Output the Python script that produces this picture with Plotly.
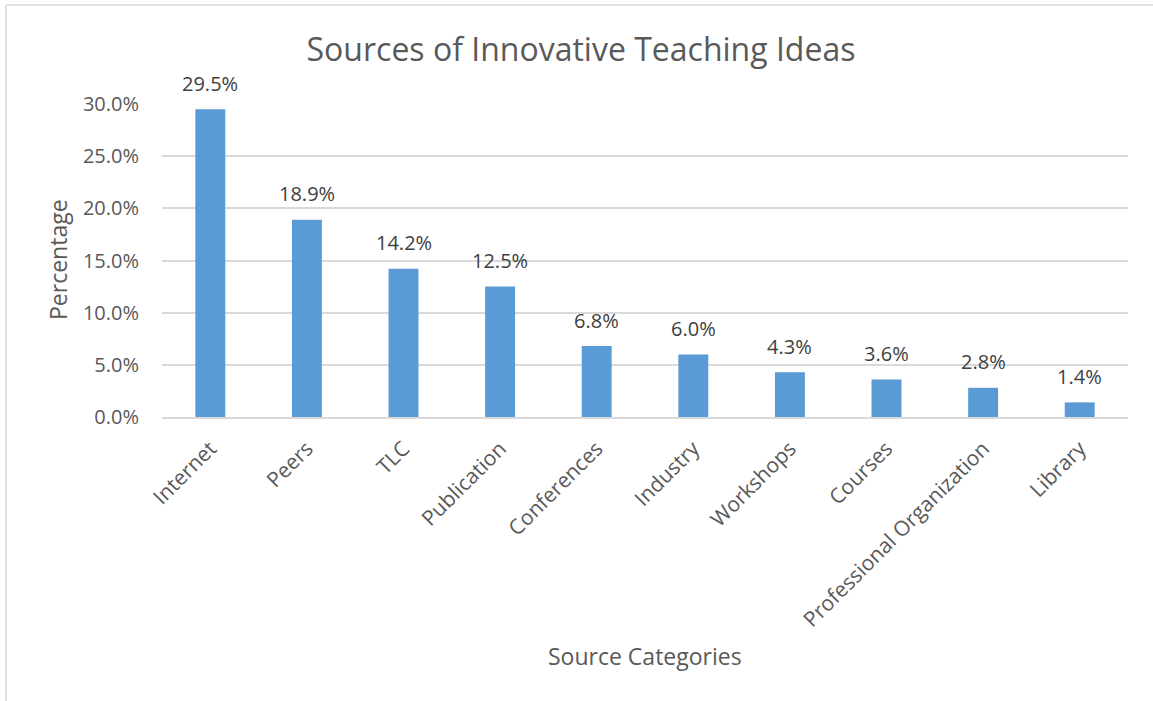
import plotly.graph_objects as go

categories = ["Internet", "Peers", "TLC", "Publication", "Conferences",
              "Industry", "Workshops", "Courses", "Professional Organization", "Library"]
percentages = [0.295, 0.189, 0.142, 0.125, 0.068, 0.060, 0.043, 0.036, 0.028, 0.014]
y_ticks = [0.0, 0.05, 0.10, 0.15, 0.20, 0.25, 0.30]

W, H = 1153, 701
M_L, M_R, M_T, M_B = 162, 25, 104, 284

TEXT = "#595959"
FONT = "Open Sans"

fig = go.Figure()
fig.add_trace(go.Bar(
    x=categories,
    y=percentages,
    width=0.31,
    marker=dict(color="#5B9BD5", line=dict(width=0)),
    hoverinfo="x+y",
))

# value labels above each bar
for c, v in zip(categories, percentages):
    fig.add_annotation(
        x=c, y=v, xref="x", yref="y",
        text=f"{v * 100:.1f}%",
        showarrow=False, yanchor="middle", yshift=26,
        font=dict(family=FONT, size=20, color="#404040"),
    )

# axis titles
fig.add_annotation(
    x=58, y=H - 260, xref="paper", yref="paper",
    text="Percentage", textangle=-90, showarrow=False,
    xanchor="center", yanchor="middle",
    font=dict(family=FONT, size=23, color=TEXT),
)
fig.add_annotation(
    x=(M_L + W - M_R) / 2, y=H - 656, xref="paper", yref="paper",
    text="Source Categories", showarrow=False,
    xanchor="center", yanchor="middle",
    font=dict(family=FONT, size=23, color=TEXT),
)

# chart frame (top and left edges)
fig.add_shape(type="line", xref="paper", yref="paper",
              x0=6, x1=W + 10, y0=H - 5, y1=H - 5,
              line=dict(color="#D9D9D9", width=1.5))
fig.add_shape(type="line", xref="paper", yref="paper",
              x0=6, x1=6, y0=H - 5, y1=-10,
              line=dict(color="#D9D9D9", width=1.5))

fig.update_layout(
    width=W, height=H,
    margin=dict(l=M_L, r=M_R, t=M_T, b=M_B, autoexpand=False),
    paper_bgcolor="white", plot_bgcolor="white",
    showlegend=False,
    title=dict(
        text="Sources of Innovative Teaching Ideas",
        x=581 / W, xanchor="center", y=1 - 50 / H, yanchor="middle",
        font=dict(family=FONT, size=32, color=TEXT),
    ),
    font=dict(family=FONT, color=TEXT),
    bargap=0.69,
)

fig.update_xaxes(
    showline=True, linecolor="#D9D9D9", linewidth=2,
    tickangle=-45, ticks="", ticklabelstandoff=9,
    tickfont=dict(family=FONT, size=21, color=TEXT),
    showgrid=False,
)
fig.update_yaxes(
    range=[0, 0.30], tickvals=y_ticks, tickformat=".1%",
    showgrid=True, gridcolor="#D9D9D9", gridwidth=1.5,
    zeroline=False, showline=False, ticks="",
    ticklabelstandoff=22,
    tickfont=dict(family=FONT, size=20, color=TEXT),
)

# convert pixel positions of paper-referenced annotations/shapes into fractions
for a in fig.layout.annotations:
    if a.xref == "paper":
        a.x = (a.x - M_L) / (W - M_L - M_R)
        a.y = (a.y - M_B) / (H - M_T - M_B)
for s in fig.layout.shapes:
    s.x0 = (s.x0 - M_L) / (W - M_L - M_R)
    s.x1 = (s.x1 - M_L) / (W - M_L - M_R)
    s.y0 = (s.y0 - M_B) / (H - M_T - M_B)
    s.y1 = (s.y1 - M_B) / (H - M_T - M_B)

fig.write_html("out.html")
